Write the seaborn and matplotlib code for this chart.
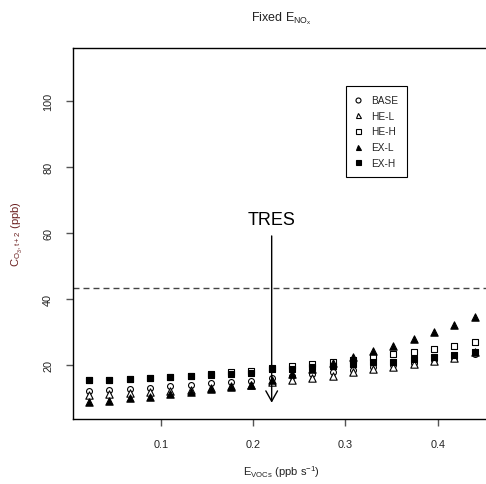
import matplotlib
matplotlib.use("Agg")
import matplotlib.pyplot as plt
import seaborn as sns
import pandas as pd
from matplotlib.lines import Line2D

# ---- data ----
e_voc = [0.022, 0.044, 0.066, 0.088, 0.110, 0.132, 0.154, 0.176, 0.198, 0.220,
         0.242, 0.264, 0.286, 0.308, 0.330, 0.352, 0.374, 0.396, 0.418, 0.440]
base = [12.0, 12.4, 12.7, 13.1, 13.5, 13.9, 14.4, 14.7, 15.2, 16.0,
        16.7, 17.3, 17.9, 18.6, 19.3, 20.0, 20.7, 21.4, 22.2, 23.3]
he_l = [10.8, 11.2, 11.5, 11.7, 12.0, 12.3, 13.0, 13.5, 13.9, 14.7,
        15.5, 16.0, 16.8, 17.8, 18.8, 19.3, 20.3, 21.2, 22.0, 23.8]
he_h = [15.3, 15.4, 15.7, 16.0, 16.3, 16.8, 17.2, 17.8, 18.2, 19.2,
        19.7, 20.3, 20.9, 21.6, 22.3, 23.3, 24.0, 24.9, 25.8, 27.0]
ex_l = [8.7, 9.2, 9.9, 10.4, 11.2, 11.7, 12.7, 13.2, 13.9, 15.5,
        17.2, 18.9, 20.5, 22.3, 24.3, 25.8, 27.9, 29.9, 32.2, 34.7]
ex_h = [15.5, 15.5, 15.8, 16.0, 16.2, 16.7, 17.0, 17.4, 17.7, 18.7,
        18.9, 19.3, 19.8, 20.3, 20.8, 21.0, 21.8, 22.3, 23.0, 23.8]
series_names = ["BASE", "HE-L", "HE-H", "EX-L", "EX-H"]
threshold = 43.3
tres_x = 0.22
x_ticks = [0.1, 0.2, 0.3, 0.4]
y_ticks = [20, 40, 60, 80, 100]

df = pd.DataFrame({
    "E_VOC": e_voc * 5,
    "C": base + he_l + he_h + ex_l + ex_h,
    "scenario": sum([[n] * len(e_voc) for n in series_names], []),
})

styles = {
    "BASE": dict(marker="o", fc="white", s=18),
    "HE-L": dict(marker="^", fc="white", s=28),
    "HE-H": dict(marker="s", fc="white", s=20),
    "EX-L": dict(marker="^", fc="black", s=28),
    "EX-H": dict(marker="s", fc="black", s=20),
}

sns.set_style("white")
plt.rcParams["font.family"] = ["Liberation Sans", "DejaVu Sans"]
plt.rcParams["mathtext.default"] = "regular"

fig = plt.figure(figsize=(4.86, 4.85), dpi=100)
ax = fig.add_axes([73 / 486, 1 - 420 / 485, 417 / 486, 371 / 485])

for name in series_names:
    st = styles[name]
    sns.scatterplot(data=df[df["scenario"] == name], x="E_VOC", y="C",
                    marker=st["marker"], s=st["s"], color=st["fc"],
                    edgecolor="black", linewidth=0.8, ax=ax, legend=False,
                    zorder=3)

ax.axhline(threshold, color="#444444", lw=1.0, ls=(0, (4.3, 2.9)), zorder=2)

ax.annotate("", xy=(tres_x, 7.7), xytext=(tres_x, 60),
            arrowprops=dict(arrowstyle="->,head_length=0.75,head_width=0.42",
                            color="black", lw=1.0, mutation_scale=10))
ax.text(tres_x, 64.2, "TRES", ha="center", va="center", fontsize=13, color="black")

ax.set_xlim(0.0046, 0.4567)
ax.set_ylim(3.6, 116.2)
ax.set_xticks(x_ticks)
ax.set_xticklabels([f"{t:.1f}" for t in x_ticks])
ax.set_yticks(y_ticks)
ax.set_yticklabels([str(t) for t in y_ticks], rotation=90, va="center")

ax.tick_params(axis="both", direction="out", length=5.3, width=1.0,
               color="#555555", labelsize=7.8, labelcolor="#222222")
ax.tick_params(axis="x", pad=9.0, bottom=True)
ax.tick_params(axis="y", pad=9.0, left=True)
for sp in ax.spines.values():
    sp.set_color("black")
    sp.set_linewidth(1.0)
    sp.set_visible(True)

ax.set_xlabel("E$_{VOCs}$ (ppb s$^{-1}$)", fontsize=8, color="#222222", labelpad=10)
ax.set_ylabel("C$_{O_3,t+2}$ (ppb)", fontsize=8, color="#6b2020", labelpad=14)
ax.set_title("Fixed E$_{NO_x}$", fontsize=9, color="#222222", pad=20)

handles = [Line2D([], [], ls="none", marker=styles[n]["marker"],
                  markerfacecolor=styles[n]["fc"], markeredgecolor="black",
                  markeredgewidth=0.8, markersize=3.6) for n in series_names]
leg = ax.legend(handles, series_names, loc="upper left",
                bbox_to_anchor=(0.654, 0.897), borderaxespad=0,
                fontsize=7.3, frameon=True, fancybox=False, edgecolor="black",
                framealpha=1, handlelength=0.6, handletextpad=1.0,
                labelspacing=0.55, borderpad=0.9)
leg.get_frame().set_linewidth(0.8)

fig.savefig("out.png", dpi=100)
